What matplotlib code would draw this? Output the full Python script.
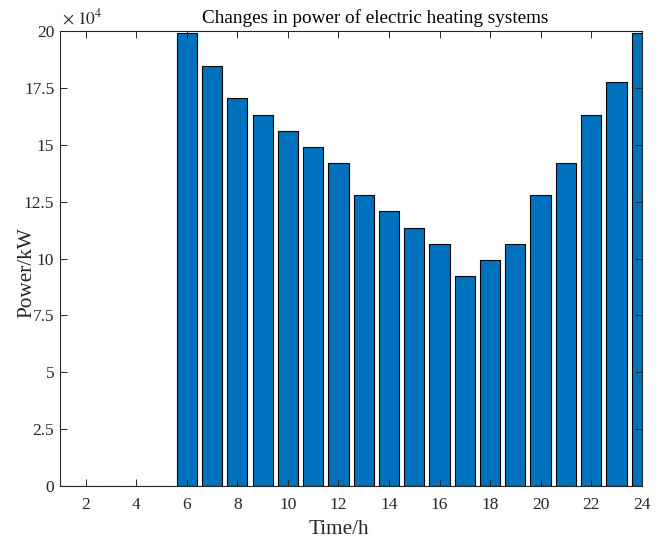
import numpy as np
import matplotlib
matplotlib.use('Agg')
import matplotlib.pyplot as plt
from matplotlib.ticker import FuncFormatter, MultipleLocator

plt.rcParams['font.family'] = ['Liberation Serif', 'DejaVu Serif']
plt.rcParams['mathtext.fontset'] = 'stix'

# Data: hourly power of electric heating systems [kW]
hours = list(range(1, 25))
power = [0, 0, 0, 0, 0,
         199000, 184700, 170400, 163300, 156200, 149100, 142000,
         127800, 120700, 113600, 106500, 92300, 99400, 106500,
         127800, 142000, 163300, 177500, 199000]

title_text = 'Changes in power of electric heating systems'
x_label = 'Time/h'
y_label = 'Power/kW'
scale = 1e4

fig = plt.figure(figsize=(6.59, 5.46), dpi=100)
ax = fig.add_axes([0.0918, 0.1099, 0.8819, 0.8333])

ax.bar(hours, power, width=0.8, color='#0072BD', edgecolor='black', linewidth=0.8)

ax.set_xlim(1, 24)
ax.set_ylim(0, 200000)
ax.xaxis.set_major_locator(MultipleLocator(2))
ax.yaxis.set_major_locator(MultipleLocator(25000))
ax.yaxis.set_major_formatter(FuncFormatter(lambda v, p: f'{v / scale:g}'))

gray = '#262626'
ax.tick_params(direction='in', top=True, right=True, length=5, width=0.7,
               colors=gray, labelsize=12.5)
ax.tick_params(axis='x', pad=8)
ax.tick_params(axis='y', pad=4.5)
for s in ax.spines.values():
    s.set_color(gray)
    s.set_linewidth(0.8)

# exponent label as MATLAB puts it
ax.text(0.002, 1.007, r'$\times\ 10^{4}$', transform=ax.transAxes,
        ha='left', va='bottom', fontsize=12.5, color=gray)

ax.text(0.541, 1.018, title_text, transform=ax.transAxes, ha='center',
        va='baseline', fontsize=13.8, color='black')

ax.set_xlabel(x_label, fontsize=15.3, color=gray)
ax.set_ylabel(y_label, fontsize=15.3, color=gray)
ax.xaxis.set_label_coords(0.4787, -0.075)
ax.yaxis.set_label_coords(-0.041, 0.47)

fig.savefig('out.png', dpi=100)
